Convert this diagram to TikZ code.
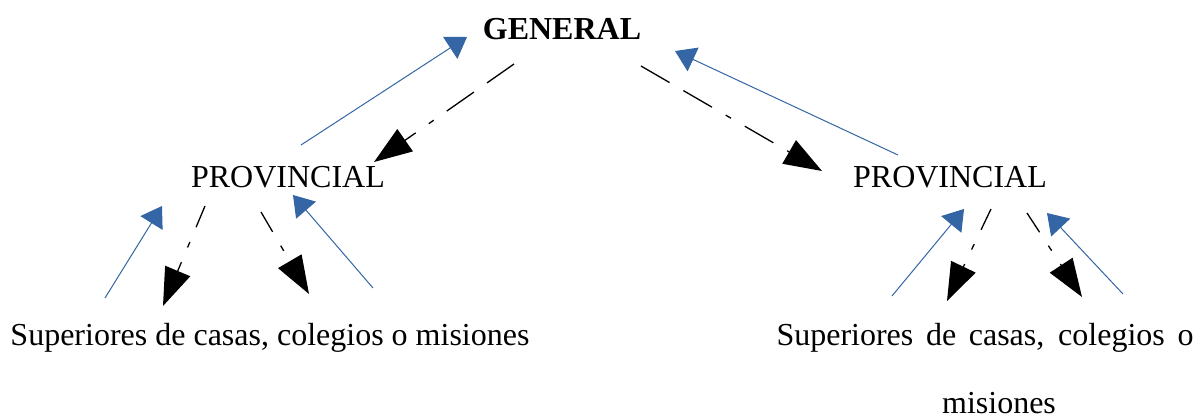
\documentclass[tikz,border=0pt]{standalone}
\usepackage{fontspec}
\setmainfont{Liberation Serif}
\usetikzlibrary{arrows.meta}
\definecolor{lnblue}{RGB}{52,101,164}
\begin{document}
\begin{tikzpicture}[x=0.5pt,y=-0.5pt,
  lbl/.style={inner sep=0pt,anchor=base,font=\fontsize{16}{19}\selectfont},
  upline/.style={draw=lnblue,line width=0.5pt,-{Triangle[length=10pt,width=13pt,fill=lnblue]}},
  downline/.style={draw=black,line width=0.65pt,-{Triangle[length=19pt,width=13.5pt]}},
  toppat/.style={dash pattern=on 16.5pt off 8pt on 16.5pt off 8pt on 3pt off 8pt},
  lowpat/.style={dash pattern=on 11.5pt off 8pt on 3pt off 8pt}]
\useasboundingbox (0,0) rectangle (1201,419);
% texts
\node[lbl,font=\fontsize{16}{19}\selectfont\bfseries] (gen) at (562,39) {GENERAL};
\node[lbl] (provL) at (288,187) {PROVINCIAL};
\node[lbl] (provR) at (950,187) {PROVINCIAL};
\node[lbl] (supL) at (270,345) {Superiores de casas, colegios o misiones};
\node[lbl] (supR) at (985,345) {\makebox[208.5pt][s]{Superiores de casas, colegios o}};
\node[lbl] (supR2) at (999,413) {misiones};
% top connectors
\coordinate (a1) at (301,145); \coordinate (a2) at (467,37);
\coordinate (b1) at (514,64);  \coordinate (b2) at (374,162);
\coordinate (c1) at (641,66);  \coordinate (c2) at (822,171);
\coordinate (d1) at (898,155); \coordinate (d2) at (675,51);
\draw[upline] (a1) -- (a2);
\draw[downline,toppat] (b1) -- (b2);
\draw[downline,toppat] (c1) -- (c2);
\draw[upline] (d1) -- (d2);
% lower left
\coordinate (e1) at (105,298); \coordinate (e2) at (162,206);
\coordinate (f1) at (205,206); \coordinate (f2) at (163,306);
\coordinate (g1) at (261,212); \coordinate (g2) at (309,294);
\coordinate (h1) at (373,288); \coordinate (h2) at (293,195);
\draw[upline] (e1) -- (e2);
\draw[downline,lowpat] (f1) -- (f2);
\draw[downline,lowpat] (g1) -- (g2);
\draw[upline] (h1) -- (h2);
% lower right
\coordinate (i1) at (892,296); \coordinate (i2) at (964,209);
\coordinate (j1) at (991,209); \coordinate (j2) at (947,301);
\coordinate (k1) at (1027,213); \coordinate (k2) at (1082,297);
\coordinate (l1) at (1123,294); \coordinate (l2) at (1047,213);
\draw[upline] (i1) -- (i2);
\draw[downline,lowpat] (j1) -- (j2);
\draw[downline,lowpat] (k1) -- (k2);
\draw[upline] (l1) -- (l2);
\end{tikzpicture}
\end{document}
